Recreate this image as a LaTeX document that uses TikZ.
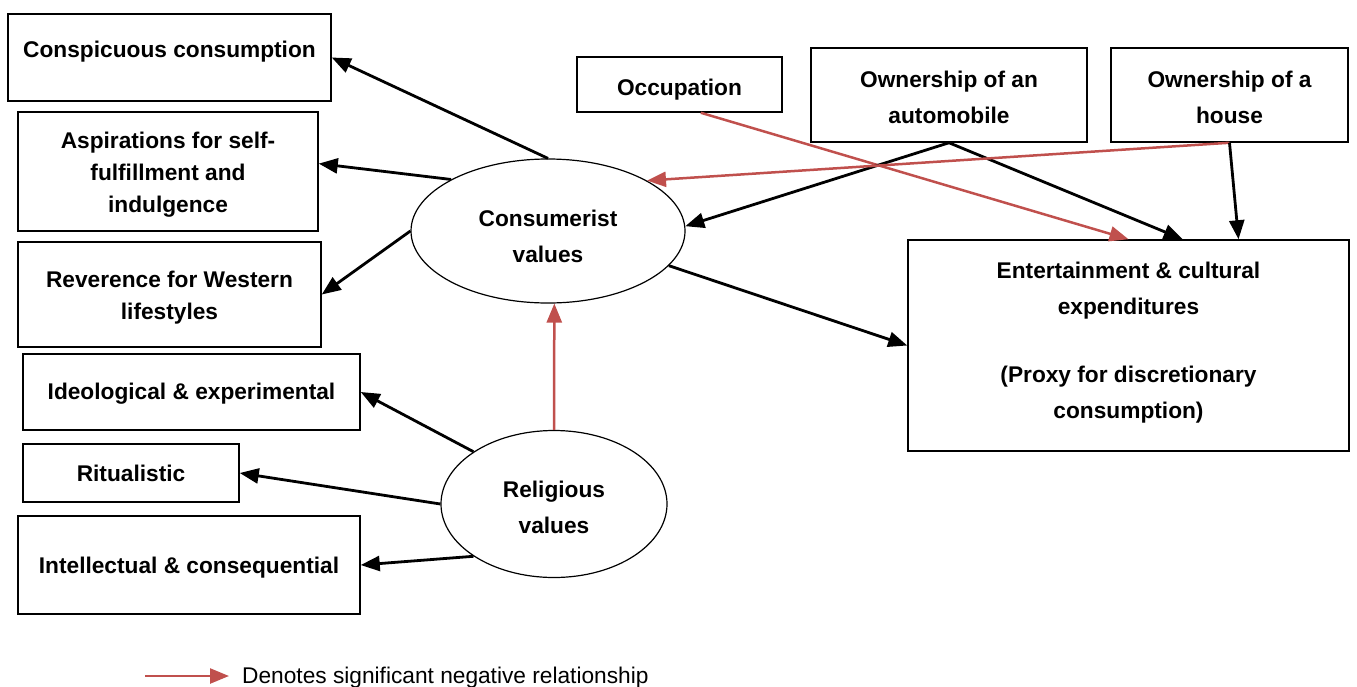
\documentclass[tikz,border=0pt]{standalone}
\usepackage{fontspec}
\setmainfont{Liberation Sans}
\usetikzlibrary{arrows.meta,shapes.geometric,calc}
\definecolor{negred}{RGB}{192,80,77}
\newcommand\boxtext[2]{\raisebox{#1}[\height][\depth]{\begin{tabular}{@{}c@{}}#2\end{tabular}}}
\begin{document}
\begin{tikzpicture}[x=1pt,y=-1pt,
  box/.style={draw, line width=1.5pt, rectangle, inner sep=0pt, align=center,
    font=\bfseries\fontsize{22.7}{34}\selectfont},
  oval/.style={draw, line width=1.2pt, ellipse, inner sep=0pt, align=center,
    font=\bfseries\fontsize{22.7}{36}\selectfont},
  posarrow/.style={line width=2.8pt, -{Triangle[length=19pt,width=15pt]}},
  negarrow/.style={line width=2.5pt, draw=negred, -{Triangle[length=19pt,width=15pt,fill=negred]}},
  legtext/.style={font=\fontsize{22.7}{27}\selectfont, inner sep=0pt, anchor=base west},
]
\useasboundingbox (0,0) rectangle (1357,686);

% left boxes
\node[box, minimum width=323pt, minimum height=87pt] (cc) at (169.5,57.5) {\boxtext{7pt}{Conspicuous consumption}};
\node[box, minimum width=300pt, minimum height=119pt, font=\bfseries\fontsize{22.7}{32}\selectfont] (asp) at (168,171.5) {\boxtext{-3pt}{Aspirations for self-\\fulfillment and\\indulgence}};
\node[box, minimum width=303pt, minimum height=105pt, font=\bfseries\fontsize{22.7}{32}\selectfont] (rev) at (169.5,294.5) {\boxtext{-3pt}{Reverence for Western\\lifestyles}};
\node[box, minimum width=337pt, minimum height=76pt] (ide) at (191.5,392) {\boxtext{-1pt}{Ideological \& experimental}};
\node[box, minimum width=216pt, minimum height=58pt] (rit) at (131,473) {Ritualistic};
\node[box, minimum width=342pt, minimum height=98pt] (int) at (189,565) {\boxtext{-2pt}{Intellectual \& consequential}};

% top boxes
\node[box, minimum width=205pt, minimum height=55pt] (occ) at (679.5,84.5) {\boxtext{-4pt}{Occupation}};
\node[box, minimum width=276pt, minimum height=94pt, font=\bfseries\fontsize{22.7}{36}\selectfont] (auto) at (949,95) {\boxtext{-3pt}{Ownership of an\\automobile}};
\node[box, minimum width=237pt, minimum height=94pt, font=\bfseries\fontsize{22.7}{36}\selectfont] (house) at (1229.5,95) {\boxtext{-3pt}{Ownership of a\\house}};

% outcome box
\node[box, minimum width=441pt, minimum height=211pt, font=\bfseries\fontsize{22.7}{35.5}\selectfont] (ent) at (1128.5,345.5)
  {\boxtext{4pt}{Entertainment \& cultural\\expenditures\\[33pt](Proxy for discretionary\\consumption)}};

% ellipses
\node[oval, minimum width=274pt, minimum height=144pt] (cons) at (548,231) {\boxtext{-6pt}{Consumerist\\values}};
\node[oval, minimum width=226pt, minimum height=147pt] (rel) at (554,504) {\boxtext{-4pt}{Religious\\values}};

% consumerist outputs
\draw[posarrow] (cons.north) -- (cc.east);
\draw[posarrow] (cons.152) -- (asp.3);
\draw[posarrow] (cons.west) -- (rev.east);
\draw[posarrow] (cons.-16) -- (ent.west);

% religious outputs
\draw[posarrow] (rel.147) -- (ide.east);
\draw[posarrow] (rel.west) -- (rit.east);
\draw[posarrow] (rel.213) -- (int.east);
\draw[negarrow] (rel.north) -- (cons.-85);

% top inputs
\draw[negarrow] (occ.-53) -- (ent.north);
\draw[posarrow] (auto.south) -- (cons.2);
\draw[posarrow] (auto.south) -- (ent.63);
\draw[negarrow] (house.south) -- (cons.27);
\draw[posarrow] (house.south) -- (ent.44);

% legend
\coordinate (legA) at (145,676);
\coordinate (legB) at (229,676);
\draw[negarrow] (legA) -- (legB);
\node[legtext] (legT) at (242,683) {Denotes significant negative relationship};
\end{tikzpicture}
\end{document}
